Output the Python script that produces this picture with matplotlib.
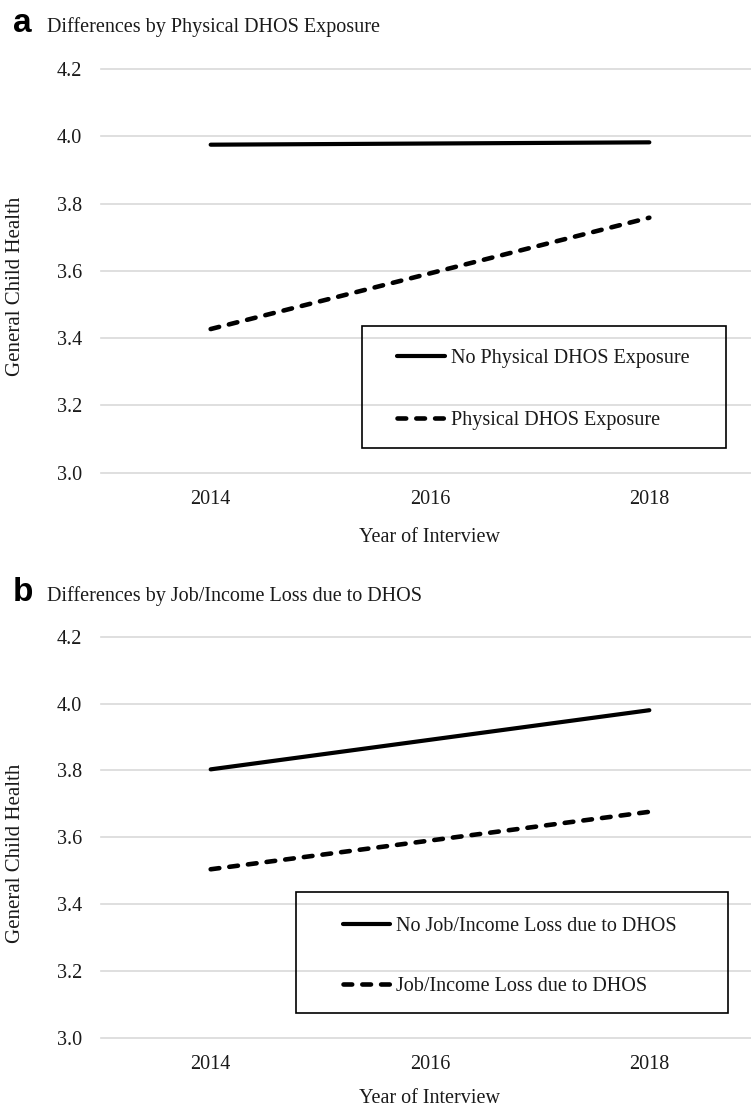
import matplotlib
matplotlib.use('Agg')
import matplotlib.pyplot as plt
from matplotlib.patches import Rectangle

# values (lines run from 2014 to 2018)
line_years = [2014, 2018]
tick_years = [2014, 2016, 2018]
year_labels = ['2014', '2016', '2018']
y_ticks = [3.0, 3.2, 3.4, 3.6, 3.8, 4.0, 4.2]
y_labels = ['3.0', '3.2', '3.4', '3.6', '3.8', '4.0', '4.2']

a_title = 'Differences by Physical DHOS Exposure'
a_names = ['No Physical DHOS Exposure', 'Physical DHOS Exposure']
a_no = [3.975, 3.982]
a_yes = [3.427, 3.758]

b_title = 'Differences by Job/Income Loss due to DHOS'
b_names = ['No Job/Income Loss due to DHOS', 'Job/Income Loss due to DHOS']
b_no = [3.803, 3.980]
b_yes = [3.504, 3.676]

SERIF = 'Liberation Serif'
FS = 14.5
TXT = '#1a1a1a'
W, H = 751, 1107

fig = plt.figure(figsize=(W / 100, H / 100), dpi=100)


def rect_px(top, bottom, left=101, right=759):
    # axes rectangle from pixel rows of y=4.2 (top) and y=3.0 (bottom)
    return [left / W, 1 - bottom / H, (right - left) / W, (bottom - top) / H]


def panel(rect, letter, title, title_y, names, no_vals, yes_vals, leg_xy, spacing,
          box, ylab_y, xlab_pad):
    ax = fig.add_axes(rect)
    l1, = ax.plot(line_years, no_vals, color='black', lw=3, solid_capstyle='round')
    l2, = ax.plot(line_years, yes_vals, color='black', lw=3.3, ls=(0, (1.9, 2.2)),
                  dash_capstyle='round')
    ax.set_xlim(2013, 2019)
    ax.set_ylim(3.0, 4.2)
    ax.set_xticks(tick_years)
    ax.set_xticklabels(year_labels)
    ax.set_yticks(y_ticks)
    ax.set_yticklabels(y_labels)
    ax.grid(True, axis='y', color='#d9d9d9', lw=1.2, clip_on=False)
    ax.set_axisbelow(True)
    for s in ax.spines.values():
        s.set_visible(False)
    ax.tick_params(length=0, labelsize=FS, labelcolor=TXT)
    ax.tick_params(axis='y', pad=13.5)
    ax.tick_params(axis='x', pad=12.5)
    for t in ax.get_xticklabels() + ax.get_yticklabels():
        t.set_fontfamily(SERIF)
    ax.set_xlabel('Year of Interview', fontfamily=SERIF, fontsize=FS, color=TXT,
                  labelpad=xlab_pad)
    ax.set_ylabel('General Child Health', fontfamily=SERIF, fontsize=FS + 0.5,
                  color=TXT, va='center')
    ax.yaxis.set_label_coords(-(101 - 15) / 658, ylab_y)

    ax.legend([l1, l2], names, loc='upper left', bbox_to_anchor=leg_xy,
              frameon=False, borderpad=0, borderaxespad=0, handlelength=2.35,
              handletextpad=0.3, labelspacing=spacing,
              prop={'family': SERIF, 'size': FS}, labelcolor=TXT)
    ax.add_patch(Rectangle(box[:2], box[2], box[3], transform=ax.transAxes,
                           fill=False, ec='black', lw=1.2, clip_on=False, zorder=5))

    fig.text(13 / W, 1 - title_y / H, letter, fontfamily='Liberation Sans',
             fontweight='bold', fontsize=24, va='baseline', ha='left', color='black')
    fig.text(47 / W, 1 - title_y / H, title, fontfamily=SERIF, fontsize=FS,
             va='baseline', ha='left', color=TXT)
    return ax


panel(rect_px(69, 472.7), 'a', a_title, 32, a_names, a_no, a_yes,
      (0.4506, 0.3077), 2.17, (0.3974, 0.0612, 0.5517, 0.303), 0.4625, 13.5)
panel(rect_px(636.7, 1037.7), 'b', b_title, 601, b_names, b_no, b_yes,
      (0.3678, 0.3022), 2.07, (0.2956, 0.0623, 0.657, 0.3017), 0.459, 10.5)

fig.savefig('out.png', dpi=100)
